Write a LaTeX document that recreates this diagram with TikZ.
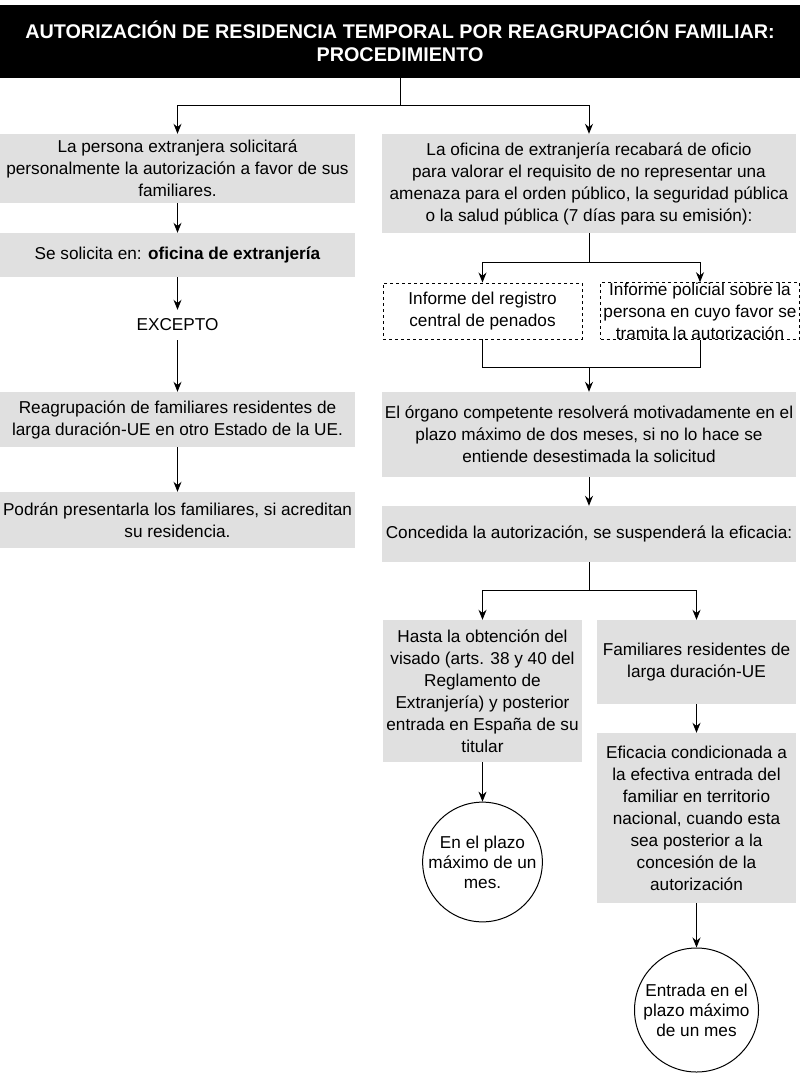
\documentclass[tikz,border=0pt]{standalone}
\usepackage{fontspec}
\setmainfont{Liberation Sans}
\usetikzlibrary{arrows.meta}
\definecolor{boxgray}{HTML}{E0E0E0}
\begin{document}
\begin{tikzpicture}[x=1pt,y=-1pt,
  box/.style={fill=boxgray, draw=none, align=center, inner sep=0pt, font=\fontsize{17.2}{22}\selectfont},
  dbox/.style={draw=black, dash pattern=on 3pt off 3pt, line width=0.9pt, align=center, inner sep=0pt, font=\fontsize{17.2}{22}\selectfont},
  circ/.style={circle, draw=black, fill=white, line width=1pt, align=center, inner sep=0pt, font=\fontsize{17.2}{20}\selectfont},
  plain/.style={align=center, inner sep=0pt, font=\fontsize{17.2}{22}\selectfont},
  arr/.style={-{Stealth[length=10pt,width=8pt]}, line width=1pt},
  ln/.style={line width=1pt}]
\useasboundingbox (0,0) rectangle (800,1075);
\fill[white] (0,0) rectangle (800,1075);

% title
\node[fill=black, text=white, minimum width=800, minimum height=73, inner sep=0pt, align=center,
      font=\fontsize{19.8}{23}\selectfont\bfseries] (title) at (400,41.5)
  {AUTORIZACIÓN DE RESIDENCIA TEMPORAL POR REAGRUPACIÓN FAMILIAR:\\PROCEDIMIENTO};

% left column
\node[box, minimum width=355, minimum height=69] (L1) at (177.5,168.5)
  {La persona extranjera solicitará\\personalmente la autorización a favor de sus\\familiares.};
\node[box, minimum width=355, minimum height=44] (L2) at (177.5,255)
  {Se solicita en: \textbf{oficina de extranjería}};
\node[plain, minimum width=100, minimum height=30] (EX) at (177.5,325) {EXCEPTO};
\node[box, minimum width=355, minimum height=55] (L3) at (177.5,419.5)
  {Reagrupación de familiares residentes de\\larga duración-UE en otro Estado de la UE.};
\node[box, minimum width=355, minimum height=56] (L4) at (177.5,520)
  {Podrán presentarla los familiares, si acreditan\\su residencia.};

% right column
\node[box, minimum width=414, minimum height=99] (R1) at (589,183.5)
  {La oficina de extranjería recabará de oficio\\para valorar el requisito de no representar una\\amenaza para el orden público, la seguridad pública\\o la salud pública (7 días para su emisión):};
\node[dbox, minimum width=199, minimum height=56] (DA) at (482.5,311)
  {Informe del registro\\central de penados};
\node[dbox, minimum width=199, minimum height=56] (DB) at (700,311)
  {Informe policial sobre la\\persona en cuyo favor se\\tramita la autorización};
\node[box, minimum width=414, minimum height=85] (R2) at (589,434.5)
  {El órgano competente resolverá motivadamente en el\\plazo máximo de dos meses, si no lo hace se\\entiende desestimada la solicitud};
\node[box, minimum width=414, minimum height=56] (R3) at (589,534)
  {Concedida la autorización, se suspenderá la eficacia:};
\node[box, minimum width=199, minimum height=142] (V1) at (482.5,691)
  {Hasta la obtención del\\visado (arts. 38 y 40 del\\Reglamento de\\Extranjería) y posterior\\entrada en España de su\\titular};
\node[box, minimum width=199, minimum height=84] (F1) at (696.5,662)
  {Familiares residentes de\\larga duración-UE};
\node[box, minimum width=199, minimum height=170] (F2) at (696.5,818)
  {Eficacia condicionada a\\la efectiva entrada del\\familiar en territorio\\nacional, cuando esta\\sea posterior a la\\concesión de la\\autorización};
\node[circ, minimum size=114] (C1) at (482.5,862)
  {En el plazo\\máximo de un\\mes.};
\node[circ, minimum size=124] (C2) at (696.5,1010)
  {Entrada en el\\plazo máximo\\de un mes};

% connectors
\coordinate (s1) at (400,106);
\coordinate (s2) at (589,262);
\coordinate (m1) at (589,367);
\coordinate (s3) at (589,590);

\draw[ln] (title.south) -- (s1);
\draw[arr] (s1) -| (L1.north);
\draw[arr] (s1) -| (R1.north);
\draw[arr] (L1) -- (L2);
\draw[arr] (L2) -- (EX);
\draw[arr] (EX) -- (L3);
\draw[arr] (L3) -- (L4);

\draw[ln] (R1.south) -- (s2);
\draw[arr] (s2) -| (DA.north);
\draw[arr] (s2) -| (DB.north);
\draw[ln] (DA.south) |- (m1);
\draw[ln] (DB.south) |- (m1);
\draw[arr] (m1) -- (R2.north);
\draw[arr] (R2) -- (R3);
\draw[ln] (R3.south) -- (s3);
\draw[arr] (s3) -| (V1.north);
\draw[arr] (s3) -| (F1.north);
\draw[arr] (V1) -- (C1);
\draw[arr] (F1) -- (F2);
\draw[arr] (F2) -- (C2);
\end{tikzpicture}
\end{document}
